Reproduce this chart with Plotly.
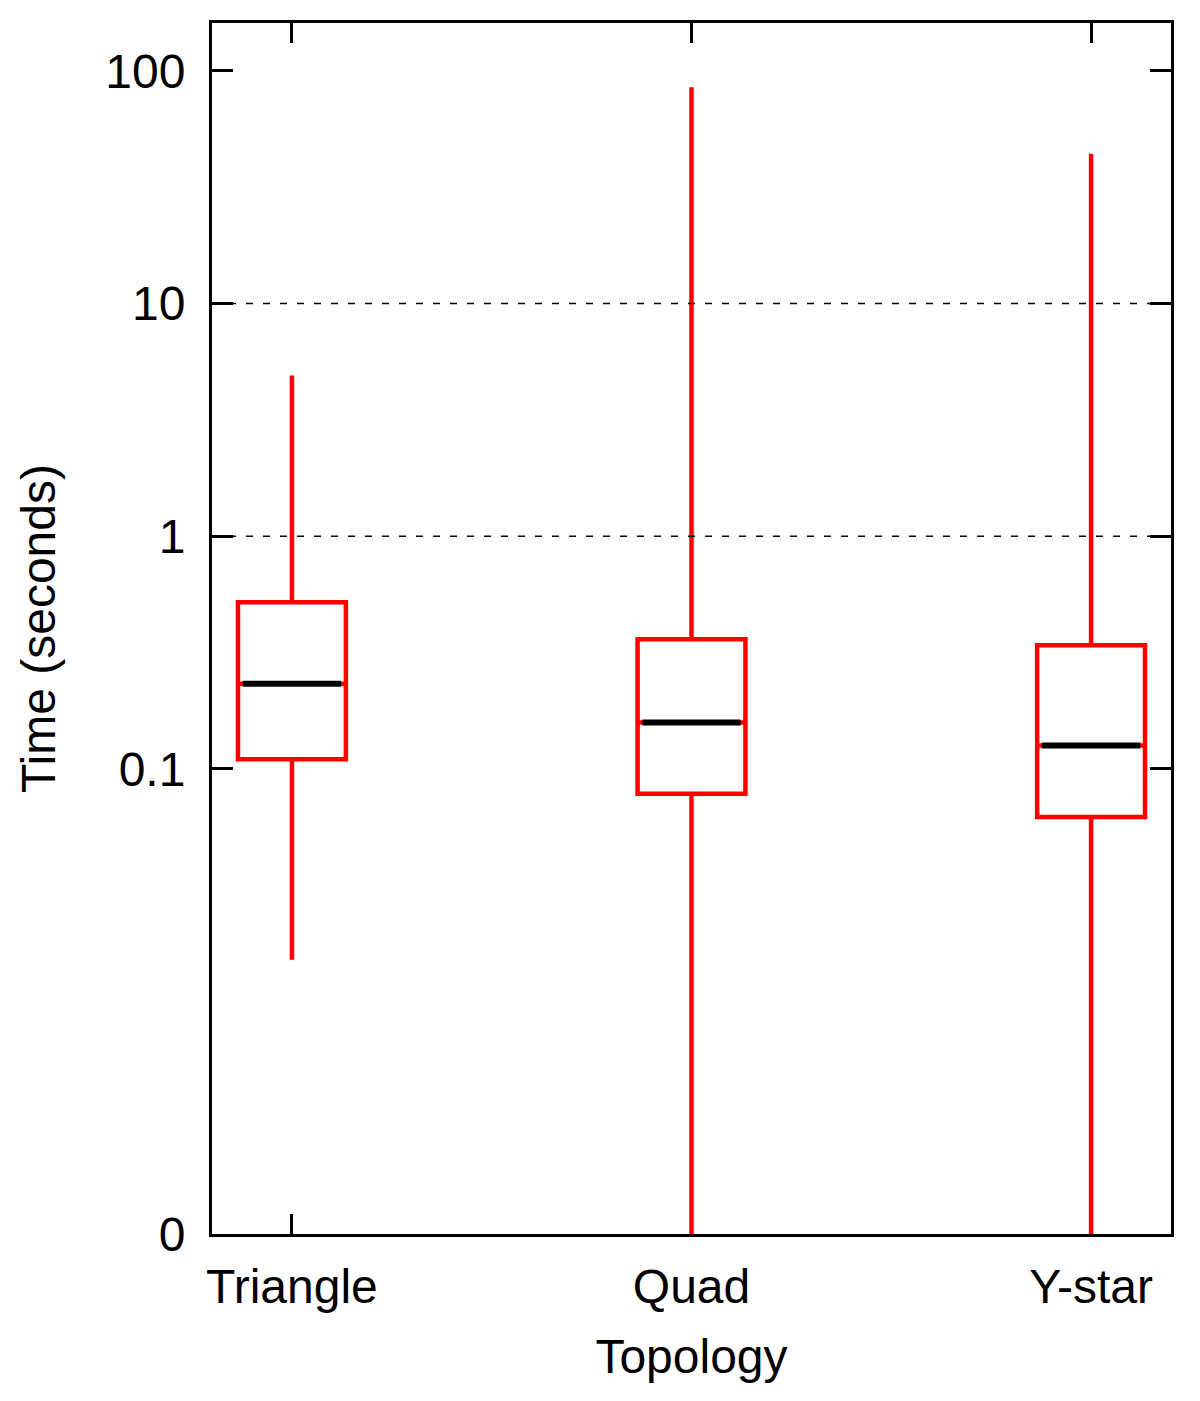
import plotly.graph_objects as go

# ---- data ----
categories = ["Triangle", "Quad", "Y-star"]
upper_whisker = [4.9, 85.0, 44.0]
q3_values = [0.52, 0.36, 0.34]
median_values = [0.232, 0.158, 0.126]
q1_values = [0.110, 0.078, 0.062]
lower_whisker = [0.0151, 0.0, 0.0]

y_tick_values = [0.001, 0.1, 1, 10, 100]
y_tick_labels = ["0", "0.1", "1", "10", "100"]
grid_values = [1, 10]

# ---- style ----
BOX_WIDTH = 0.27
RED = "#ff0000"
FONT = dict(family="Liberation Sans, Arial, Helvetica, sans-serif", size=48, color="black")
LOG_FLOOR = 1e-6  # zero is drawn below the visible range on the log axis

fig = go.Figure()

xs = list(range(len(categories)))
for i, cat in enumerate(categories):
    lw = lower_whisker[i] if lower_whisker[i] > 0 else LOG_FLOOR
    fig.add_trace(go.Box(
        x=[i], q1=[q1_values[i]], median=[median_values[i]], q3=[q3_values[i]],
        lowerfence=[lw], upperfence=[upper_whisker[i]],
        width=BOX_WIDTH, whiskerwidth=0,
        line=dict(color=RED, width=4.5), fillcolor="rgba(255,255,255,0)",
        boxpoints=False, showlegend=False, name=cat, hoverinfo="skip",
    ))
    fig.add_trace(go.Scatter(
        x=[i - BOX_WIDTH / 2 + 0.012, i + BOX_WIDTH / 2 - 0.012],
        y=[median_values[i], median_values[i]],
        mode="lines", line=dict(color="black", width=6),
        showlegend=False, hoverinfo="skip",
    ))

for g in grid_values:
    fig.add_shape(type="line", xref="paper", yref="y", x0=0, x1=1, y0=g, y1=g,
                  line=dict(color="black", width=1.5, dash="7px,10px"), layer="above")

fig.update_layout(
    width=1184, height=1385,
    margin=dict(l=204, r=21, t=12, b=159),
    plot_bgcolor="white", paper_bgcolor="white",
    font=FONT,
    xaxis=dict(
        range=[-0.2, 2.2], tickmode="array", tickvals=xs, ticktext=categories,
        ticks="inside", ticklen=20, tickwidth=3, tickcolor="black",
        showline=True, linecolor="black", linewidth=3, mirror="ticks",
        showgrid=False, zeroline=False, layer="below traces",
        title=dict(text="Topology", font=FONT, standoff=28),
        ticklabelstandoff=8,
    ),
    yaxis=dict(
        type="log", range=[-3, 2.206], tickmode="array",
        tickvals=y_tick_values, ticktext=y_tick_labels,
        ticks="inside", ticklen=21, tickwidth=3, tickcolor="black",
        showline=True, linecolor="black", linewidth=3, mirror="ticks",
        showgrid=False, zeroline=False,
        title=dict(text="Time (seconds)", font=FONT, standoff=35),
        ticklabelstandoff=14,
    ),
)

fig.write_html("out.html")
